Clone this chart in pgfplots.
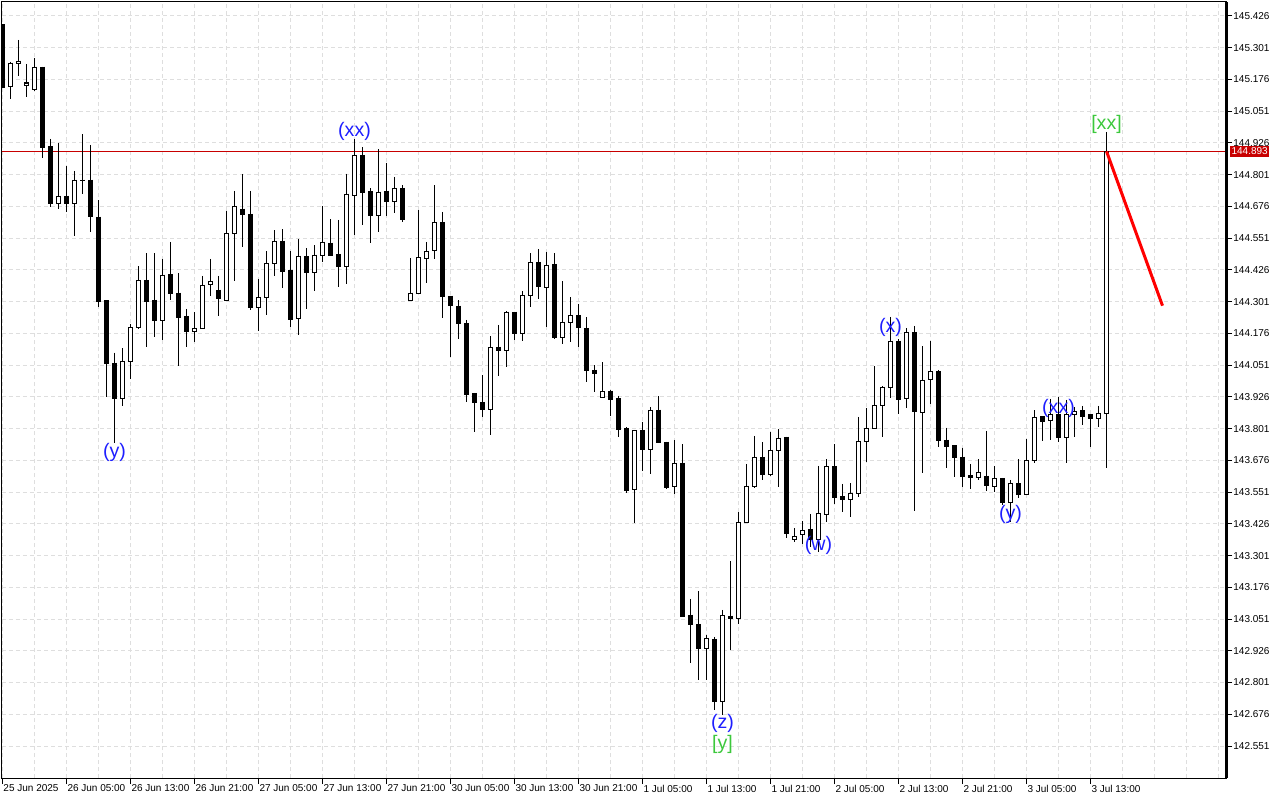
\documentclass[border=0pt]{standalone}
\usepackage{pgfplots}
\usepackage{pgfplotstable}
\usepackage{fontspec}
\setmainfont{Liberation Sans}
\pgfplotsset{compat=1.18}

\definecolor{pricered}{RGB}{200,0,0}
\definecolor{gridgray}{RGB}{222,222,222}
\definecolor{waveblue}{RGB}{30,30,255}
\definecolor{wavegreen}{RGB}{60,200,60}

% hourly bars: index, open, high, low, close
\pgfplotstableread{
i O H L C
0 145.391 145.394 145.142 145.146
1 145.148 145.246 145.099 145.240
2 145.240 145.332 145.191 145.248
3 145.153 145.237 145.108 145.162
4 145.136 145.259 145.132 145.224
5 145.224 145.226 144.868 144.907
6 144.910 144.942 144.675 144.687
7 144.686 144.925 144.667 144.716
8 144.716 144.835 144.654 144.687
9 144.687 144.816 144.560 144.779
10 144.779 144.961 144.726 144.778
11 144.779 144.918 144.575 144.636
12 144.634 144.700 144.279 144.301
13 144.304 144.305 143.927 144.058
14 144.059 144.100 143.743 143.919
15 143.919 144.117 143.891 144.066
16 144.066 144.213 143.997 144.200
17 144.200 144.441 144.194 144.385
18 144.385 144.491 144.124 144.301
19 144.307 144.491 144.160 144.226
20 144.226 144.469 144.150 144.405
21 144.406 144.536 144.307 144.332
22 144.334 144.413 144.048 144.238
23 144.243 144.272 144.124 144.183
24 144.184 144.259 144.142 144.196
25 144.194 144.402 144.192 144.365
26 144.368 144.469 144.323 144.381
27 144.346 144.402 144.244 144.313
28 144.305 144.658 144.303 144.570
29 144.570 144.737 144.382 144.676
30 144.665 144.804 144.517 144.645
31 144.645 144.737 144.268 144.277
32 144.279 144.390 144.185 144.318
33 144.318 144.500 144.250 144.452
34 144.452 144.583 144.403 144.539
35 144.539 144.587 144.356 144.419
36 144.422 144.500 144.202 144.229
37 144.234 144.548 144.171 144.480
38 144.477 144.512 144.272 144.415
39 144.415 144.524 144.343 144.484
40 144.482 144.678 144.457 144.535
41 144.531 144.626 144.481 144.484
42 144.487 144.623 144.360 144.439
43 144.439 144.805 144.370 144.724
44 144.720 144.942 144.563 144.877
45 144.877 144.909 144.604 144.730
46 144.733 144.747 144.533 144.639
47 144.639 144.902 144.576 144.732
48 144.736 144.847 144.639 144.696
49 144.696 144.792 144.651 144.747
50 144.747 144.760 144.616 144.623
51 144.306 144.473 144.304 144.334
52 144.332 144.662 144.330 144.473
53 144.470 144.536 144.376 144.499
54 144.503 144.760 144.470 144.613
55 144.613 144.654 144.238 144.320
56 144.323 144.325 144.084 144.285
57 144.283 144.307 144.152 144.214
58 144.213 144.229 143.906 143.934
59 143.940 143.942 143.789 143.903
60 143.904 144.012 143.845 143.875
61 143.875 144.164 143.774 144.121
62 144.122 144.209 144.008 144.108
63 144.109 144.264 144.045 144.260
64 144.260 144.262 144.149 144.175
65 144.175 144.343 144.147 144.326
66 144.326 144.491 144.281 144.456
67 144.456 144.507 144.311 144.360
68 144.356 144.497 144.201 144.445
69 144.448 144.491 144.153 144.159
70 144.159 144.381 144.135 144.220
71 144.220 144.319 144.143 144.247
72 144.247 144.292 144.124 144.198
73 144.196 144.239 143.986 144.029
74 144.031 144.050 143.945 144.017
75 143.924 144.062 143.922 143.947
76 143.949 143.953 143.852 143.915
77 143.918 143.931 143.769 143.797
78 143.802 143.806 143.546 143.559
79 143.562 143.796 143.430 143.792
80 143.794 143.827 143.634 143.718
81 143.718 143.887 143.623 143.873
82 143.874 143.929 143.745 143.747
83 143.748 143.750 143.564 143.571
84 143.572 143.756 143.545 143.664
85 143.665 143.739 143.058 143.060
86 143.066 143.130 142.879 143.030
87 143.030 143.161 142.812 142.934
88 142.936 142.988 142.812 142.975
89 142.971 142.981 142.693 142.725
90 142.725 143.087 142.673 143.064
91 143.062 143.279 142.928 143.052
92 143.052 143.472 143.030 143.432
93 143.432 143.662 143.430 143.574
94 143.572 143.772 143.568 143.688
95 143.688 143.748 143.597 143.621
96 143.621 143.788 143.615 143.716
97 143.716 143.799 143.572 143.763
98 143.767 143.769 143.371 143.387
99 143.365 143.408 143.355 143.375
100 143.385 143.438 143.348 143.400
101 143.404 143.465 143.336 143.365
102 143.365 143.654 143.314 143.467
103 143.463 143.681 143.434 143.650
104 143.650 143.740 143.503 143.530
105 143.532 143.583 143.472 143.523
106 143.523 143.585 143.454 143.546
107 143.546 143.847 143.533 143.751
108 143.751 143.882 143.668 143.802
109 143.802 144.046 143.800 143.891
110 143.891 143.969 143.769 143.964
111 143.964 144.241 143.921 144.145
112 144.145 144.153 143.857 143.916
113 143.920 144.196 143.881 144.180
114 144.180 144.206 143.478 143.868
115 143.865 144.126 143.627 143.991
116 143.995 144.146 143.898 144.024
117 144.024 144.032 143.727 143.753
118 143.756 143.805 143.647 143.730
119 143.734 143.736 143.611 143.686
120 143.689 143.726 143.572 143.611
121 143.615 143.662 143.564 143.609
122 143.609 143.681 143.599 143.627
123 143.614 143.792 143.556 143.576
124 143.572 143.654 143.551 143.605
125 143.605 143.607 143.500 143.509
126 143.509 143.599 143.434 143.583
127 143.583 143.681 143.529 143.542
128 143.542 143.760 143.540 143.676
129 143.676 143.874 143.664 143.845
130 143.847 143.849 143.753 143.828
131 143.833 143.918 143.756 143.858
132 143.858 143.924 143.749 143.765
133 143.765 143.914 143.664 143.855
134 143.855 143.887 143.767 143.868
135 143.871 143.890 143.815 143.848
136 143.855 143.857 143.730 143.842
137 143.842 143.890 143.808 143.861
138 143.861 144.970 143.647 144.893
}\candles

\begin{document}
\begin{tikzpicture}
\path[use as bounding box] (-1pt,-11pt) rectangle (639pt,389pt);
\begin{axis}[
    at={(0,0)}, anchor=south west,
    scale only axis,
    width=612pt, height=388pt,
    xmin=-0.0625, xmax=152.9375,
    ymin=142.425, ymax=145.481,
    clip mode=individual,
    axis line style={black, line width=0.5pt},
    xtick={0,8,...,136},
    xticklabels={25 Jun 2025, 26 Jun 05:00, 26 Jun 13:00, 26 Jun 21:00,
        27 Jun 05:00, 27 Jun 13:00, 27 Jun 21:00, 30 Jun 05:00,
        30 Jun 13:00, 30 Jun 21:00, 1 Jul 05:00, 1 Jul 13:00,
        1 Jul 21:00, 2 Jul 05:00, 2 Jul 13:00, 2 Jul 21:00,
        3 Jul 05:00, 3 Jul 13:00},
    minor xtick={0,4,...,152},
    xmajorgrids=false, xminorgrids=true,
    ytick={142.551,142.676,142.801,142.926,143.051,143.176,143.301,143.426,
        143.551,143.676,143.801,143.926,144.051,144.176,144.301,144.426,
        144.551,144.676,144.801,144.926,145.051,145.176,145.301,145.426},
    yticklabels={142.551,142.676,142.801,142.926,143.051,143.176,143.301,143.426,
        143.551,143.676,143.801,143.926,144.051,144.176,144.301,144.426,
        144.551,144.676,144.801,144.926,145.051,145.176,145.301,145.426},
    ymajorgrids=true,
    grid style={gridgray, dash pattern=on 2pt off 1.5pt, line width=0.5pt},
    minor grid style={gridgray, dash pattern=on 2pt off 1.5pt, line width=0.5pt},
    tick align=outside,
    major tick length=3pt, minor tick length=0pt,
    tick style={black, line width=0.5pt},
    xtick pos=left, ytick pos=right, yticklabel pos=right,
    x tick label style={anchor=north west, inner sep=0pt, xshift=0.3pt, yshift=-0.3pt,
        font=\fontsize{5}{6}\selectfont},
    y tick label style={anchor=west, inner sep=0pt, xshift=0.5pt,
        font=\fontsize{5}{6}\selectfont},
]
% current price line
\addplot[color=pricered, line width=0.5pt, forget plot] coordinates {(-1,144.893) (160,144.893)};

% wicks
\addplot[draw=none, mark=none, forget plot,
    error bars/.cd, y dir=minus, y explicit, error mark=none,
    error bar style={draw=black, solid, line width=0.5pt}]
    table[x=i, y=H, y error minus expr={\thisrow{H}-\thisrow{L}}] {\candles};

% bear bodies
\addplot[draw=none, mark=none, forget plot,
    error bars/.cd, y dir=minus, y explicit, error mark=none,
    error bar style={draw=black, solid, line width=2.5pt}]
    table[x=i, y expr={\thisrow{O}+0.002},
        y error minus expr={ifthenelse(\thisrow{C}>\thisrow{O},0,\thisrow{O}-\thisrow{C}+0.004)}] {\candles};

% bull bodies: outline then white fill
\addplot[draw=none, mark=none, forget plot,
    error bars/.cd, y dir=minus, y explicit, error mark=none,
    error bar style={draw=black, solid, line width=2.5pt}]
    table[x=i, y expr={\thisrow{C}+0.002},
        y error minus expr={ifthenelse(\thisrow{C}>\thisrow{O},\thisrow{C}-\thisrow{O}+0.004,0)}] {\candles};
\addplot[draw=none, mark=none, forget plot,
    error bars/.cd, y dir=minus, y explicit, error mark=none,
    error bar style={draw=white, solid, line width=1.5pt}]
    table[x=i, y expr={\thisrow{C}-0.002},
        y error minus expr={ifthenelse(\thisrow{C}>\thisrow{O}+0.004,\thisrow{C}-\thisrow{O}-0.004,0)}] {\candles};

% projection
\addplot[color=red, line width=1.5pt, forget plot] coordinates {(138,144.893) (145,144.285)};

% wave labels
\node[text=waveblue, font=\fontsize{9.8}{11}\selectfont] at (axis cs:14,143.708) {(y)};
\node[text=waveblue, font=\fontsize{9.8}{11}\selectfont] at (axis cs:44,144.970) {(xx)};
\node[text=waveblue, font=\fontsize{9.8}{11}\selectfont] at (axis cs:90,142.640) {(z)};
\node[text=wavegreen, font=\fontsize{9.8}{11}\selectfont] at (axis cs:90,142.558) {[y]};
\node[text=waveblue, font=\fontsize{9.8}{11}\selectfont] at (axis cs:102,143.341) {(w)};
\node[text=waveblue, font=\fontsize{9.8}{11}\selectfont] at (axis cs:111,144.200) {(x)};
\node[text=waveblue, font=\fontsize{9.8}{11}\selectfont] at (axis cs:126,143.464) {(y)};
\node[text=waveblue, font=\fontsize{9.8}{11}\selectfont] at (axis cs:132,143.881) {(xx)};
\node[text=wavegreen, font=\fontsize{9.8}{11}\selectfont] at (axis cs:138,145.000) {[xx]};

% thick right edge and price tag
\draw[black, line width=1.5pt] (rel axis cs:1,0) -- (rel axis cs:1,1);
\node[fill=pricered, text=white, anchor=west, inner xsep=0.8pt, inner ysep=0.9pt,
    font=\fontsize{5}{6}\selectfont] at (axis cs:152.9375,144.893) [xshift=1.8pt] {144.893};
\end{axis}
\end{tikzpicture}
\end{document}
